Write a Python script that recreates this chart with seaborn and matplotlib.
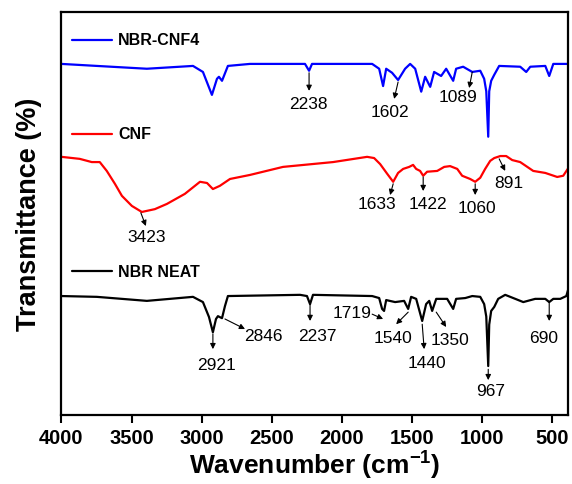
import numpy as np
import matplotlib
matplotlib.use("Agg")
import matplotlib.pyplot as plt
import seaborn as sns
import pandas as pd

# wavenumber (cm-1) and offset transmittance
cnf4_wn = [4000, 3748, 3391, 3062, 2991, 2927, 2891, 2877, 2855, 2813, 2656, 2263,
           2234, 2213, 1784, 1734, 1706, 1684, 1642, 1599, 1549, 1513, 1477, 1434,
           1406, 1370, 1342, 1292, 1256, 1206, 1185, 1135, 1070, 1013, 985, 970,
           956, 949, 935, 913, 878, 728, 685, 656, 549, 521, 492, 385]
cnf4_t = [86.8, 86.3, 85.6, 86.3, 84.8, 79.1, 83.1, 83.6, 82.6, 86.3, 86.8, 86.8,
          85.1, 86.8, 86.8, 85.6, 81.3, 85.6, 84.6, 82.8, 85.6, 86.8, 85.6, 79.9,
          83.6, 81.1, 84.8, 83.8, 85.6, 82.6, 85.6, 86.1, 84.8, 85.1, 83.1, 80.0,
          68.7, 80.0, 82.6, 84.1, 86.3, 86.1, 84.8, 86.1, 86.3, 83.8, 86.8, 86.8]

cnf_wn = [4000, 3870, 3784, 3727, 3677, 3619, 3569, 3498, 3427, 3334, 3248, 3120,
          3012, 2962, 2920, 2870, 2798, 2656, 2420, 2063, 1820, 1770, 1727, 1677,
          1634, 1599, 1563, 1520, 1492, 1470, 1442, 1420, 1392, 1320, 1270, 1228,
          1177, 1142, 1085, 1049, 1013, 978, 942, 913, 870, 828, 785, 728, 635,
          549, 464, 421, 385]
cnf_t = [63.7, 63.2, 62.4, 62.4, 60.2, 57.0, 54.0, 51.5, 50.0, 50.7, 52.0, 54.5,
         57.5, 57.2, 55.7, 56.5, 58.2, 59.2, 61.2, 62.4, 63.7, 63.4, 61.9, 59.5,
         57.5, 59.7, 60.7, 61.2, 61.7, 60.7, 60.2, 59.0, 60.0, 60.2, 61.2, 61.4,
         60.7, 59.0, 58.2, 57.5, 58.5, 60.7, 62.7, 63.4, 63.9, 63.9, 62.9, 62.4,
         60.2, 59.7, 58.7, 59.0, 60.9]

neat_wn = [4000, 3748, 3391, 3062, 2991, 2948, 2920, 2898, 2884, 2855, 2834, 2813,
           2298, 2249, 2227, 2206, 1784, 1734, 1713, 1699, 1684, 1620, 1556, 1527,
           1506, 1470, 1427, 1399, 1377, 1356, 1327, 1249, 1206, 1185, 1120, 1070,
           1013, 985, 970, 956, 949, 935, 913, 885, 835, 763, 706, 621, 549, 521,
           492, 442, 399, 385]
neat_t = [29.1, 28.9, 27.9, 28.9, 27.6, 23.9, 20.1, 23.4, 24.1, 23.6, 26.6, 29.1,
          29.4, 29.1, 27.1, 29.4, 29.1, 28.6, 25.9, 25.4, 28.1, 27.6, 27.9, 25.9,
          28.9, 28.4, 22.9, 27.1, 27.9, 25.4, 28.4, 28.4, 25.9, 28.4, 28.6, 29.1,
          28.9, 27.1, 24.0, 11.7, 22.0, 25.4, 26.4, 28.4, 29.4, 28.4, 27.6, 28.4,
          28.4, 27.6, 28.4, 28.4, 29.1, 30.8]

series_names = ["NBR-CNF4", "CNF", "NBR NEAT"]
series_colors = ["#0000ff", "#ff0000", "#000000"]

# peak labels: text, text pos, arrow tail, arrow head
peaks = [
    ("2238", (2241, 76.9), (2234, 84.6), (2234, 80.1)),
    ("1602", (1656, 74.9), (1599, 82.3), (1627, 78.1)),
    ("1089", (1170, 78.6), (1070, 84.8), (1092, 80.8)),
    ("3423", (3391, 44.0), (3434, 49.8), (3398, 46.5)),
    ("1633", (1749, 52.0), (1634, 57.0), (1656, 54.2)),
    ("1422", (1385, 52.0), (1420, 58.7), (1420, 55.2)),
    ("1060", (1035, 51.2), (1049, 57.0), (1049, 54.2)),
    ("891", (806, 57.2), (878, 63.2), (835, 60.2)),
    ("2921", (2891, 12.2), (2920, 19.7), (2920, 15.9)),
    ("2846", (2563, 19.2), (2834, 23.4), (2691, 20.9)),
    ("2237", (2177, 19.2), (2227, 27.1), (2227, 22.9)),
    ("1719", (1927, 25.1), (1784, 24.6), (1706, 23.4)),
    ("1540", (1634, 18.9), (1527, 25.1), (1613, 22.1)),
    ("1440", (1392, 12.7), (1427, 22.1), (1413, 15.9)),
    ("1350", (1228, 18.4), (1327, 25.1), (1256, 21.4)),
    ("967", (942, 5.5), (956, 10.9), (956, 8.2)),
    ("690", (564, 18.9), (521, 27.6), (521, 22.9)),
]

sns.set_style("ticks")
plt.rcParams['font.family'] = ['Liberation Sans', 'DejaVu Sans']
plt.rcParams['text.color'] = 'black'
plt.rcParams['axes.labelcolor'] = 'black'
plt.rcParams['xtick.color'] = 'black'
plt.rcParams['mathtext.fontset'] = 'custom'
plt.rcParams['mathtext.bf'] = 'Liberation Sans:bold'
plt.rcParams['mathtext.rm'] = 'Liberation Sans'

fig = plt.figure(figsize=(5.72, 4.85), dpi=100)
ax = fig.add_axes([0.1075, 0.142, 0.886, 0.832])

frames = [
    pd.DataFrame({"wn": cnf4_wn, "t": cnf4_t}),
    pd.DataFrame({"wn": cnf_wn, "t": cnf_t}),
    pd.DataFrame({"wn": neat_wn, "t": neat_t}),
]
for df, col in zip(frames, series_colors):
    sns.lineplot(data=df, x="wn", y="t", color=col, lw=1.6, sort=False, ax=ax)

# legend-like labels above each trace
label_y = [0.930, 0.697, 0.357]
for name, col, yy in zip(series_names, series_colors, label_y):
    ax.plot([0.02, 0.10], [yy, yy], color=col, lw=1.6, transform=ax.transAxes)
    ax.text(0.112, yy, name, transform=ax.transAxes, fontsize=11.5,
            fontweight='bold', va='center', ha='left')

for txt, tpos, tail, head in peaks:
    ax.annotate("", xy=head, xytext=tail,
                arrowprops=dict(arrowstyle='-|>', color='black', lw=0.8,
                                mutation_scale=8, shrinkA=0, shrinkB=0))
    ax.text(tpos[0], tpos[1], txt, fontsize=12.5, ha='center', va='center')

ax.set_xlim(4000, 385)
ax.set_ylim(-0.5, 99.8)
ax.set_xticks([4000, 3500, 3000, 2500, 2000, 1500, 1000, 500])
ax.set_yticks([])
ax.tick_params(axis='x', direction='out', length=6, width=1.5, labelsize=14.5, pad=3)
for lab in ax.get_xticklabels():
    lab.set_fontweight('bold')
for sp in ax.spines.values():
    sp.set_visible(True)
    sp.set_linewidth(1.6)
    sp.set_color('black')

ax.set_xlabel("Wavenumber (cm$^{\\mathbf{-1}}$)", fontsize=19, fontweight='bold', labelpad=0)
ax.set_ylabel("Transmittance (%)", fontsize=19.5, fontweight='bold', labelpad=14)

fig.savefig("out.png", dpi=100)
